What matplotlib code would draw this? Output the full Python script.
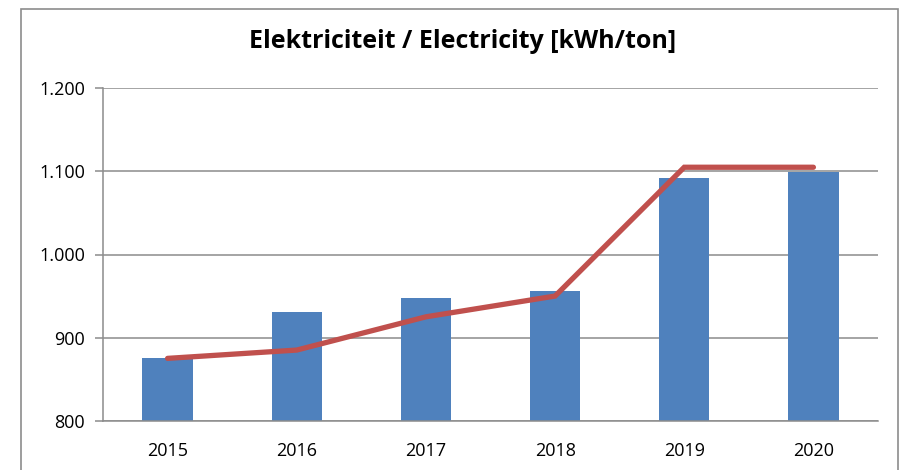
import numpy as np
import matplotlib.pyplot as plt
import matplotlib.patches as mpatches
from matplotlib.ticker import FuncFormatter

# values
years = ['2015', '2016', '2017', '2018', '2019', '2020']
bar_values = [876, 931, 948, 956, 1092, 1099]
line_values = [875, 885, 925, 950, 1105, 1105]
y_ticks = [800, 900, 1000, 1100, 1200]

plt.rcParams['font.family'] = ['Open Sans', 'DejaVu Sans']

fig = plt.figure(figsize=(9.04, 4.70), dpi=100)
ax = fig.add_axes([103 / 904, 1 - 420.7 / 470, 775 / 904, 332.4 / 470])

# outer chart frame (runs off the bottom of the picture)
frame = mpatches.Rectangle((21 / 904, -0.05), 877 / 904, 1.05 - 9 / 470,
                           transform=fig.transFigure, fill=False,
                           edgecolor='#8c8c8c', linewidth=1.2)
fig.patches.append(frame)

x = np.arange(len(years))
ax.bar(x, [v - 800 for v in bar_values], bottom=800, width=0.39,
       color='#4F81BD', zorder=2)
ax.plot(x, line_values, color='#C0504D', linewidth=3.8,
        solid_capstyle='round', solid_joinstyle='miter', zorder=3)

ax.set_xlim(-0.5, len(years) - 0.5)
ax.set_ylim(800, 1200)
ax.set_xticks(x)
ax.set_xticklabels(years)
ax.set_yticks(y_ticks)
ax.yaxis.set_major_formatter(FuncFormatter(lambda v, p: f'{int(v):,}'.replace(',', '.')))

ax.grid(axis='y', color='#8c8c8c', linewidth=1.1, zorder=0)
ax.set_axisbelow(True)
for side in ['top', 'right']:
    ax.spines[side].set_visible(False)
for side in ['left', 'bottom']:
    ax.spines[side].set_color('#8c8c8c')
    ax.spines[side].set_linewidth(1.1)

ax.tick_params(axis='y', length=6, color='#8c8c8c', width=1.1, labelsize=13, pad=7)
ax.tick_params(axis='x', length=0, labelsize=13, pad=15)

fig.text(463 / 904, 1 - 42 / 470, 'Elektriciteit / Electricity [kWh/ton]',
         ha='center', va='center', fontsize=18, fontweight='bold')

fig.savefig('out.png', dpi=100)
